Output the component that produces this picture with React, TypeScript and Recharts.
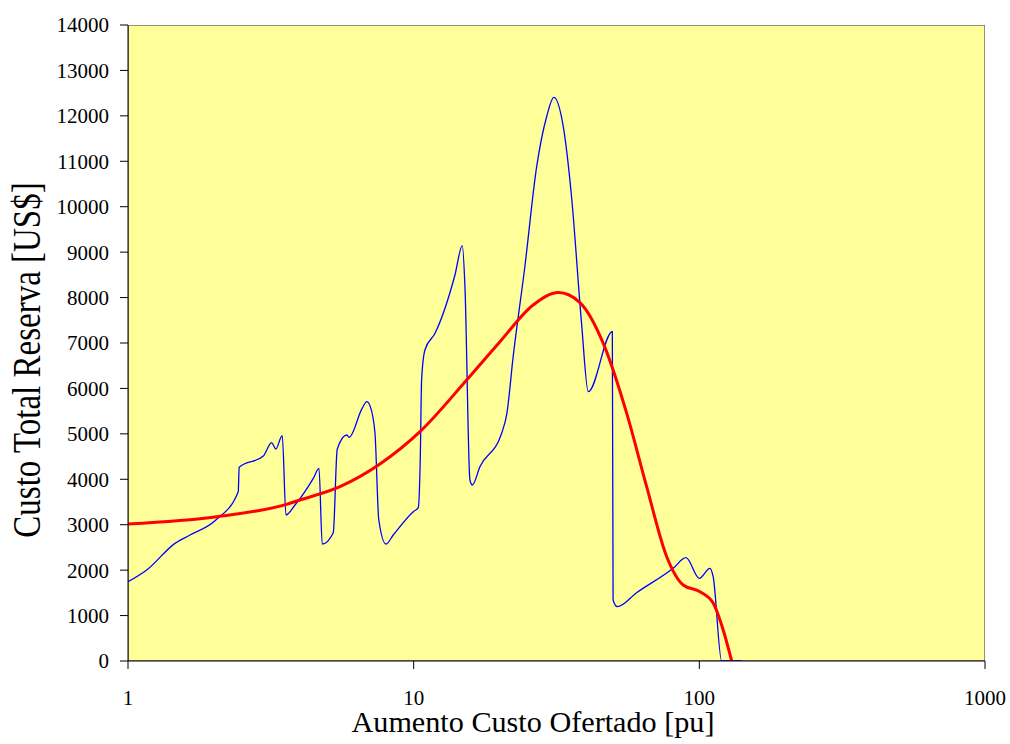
import { LineChart, Line, XAxis, YAxis, ReferenceArea, Label } from 'recharts'

// custo total observado para cada aumento do custo ofertado (eixo x em escala log)
const aumentoObs = [
  1, 1.163, 1.46, 1.648, 2.016, 2.432, 2.45, 2.976, 3.184, 3.29, 3.467, 3.573, 3.842, 4.453,
  4.662, 4.786, 5.23, 5.4, 5.83, 5.94, 6.6, 6.85, 7.05, 7.32, 7.55, 8.0, 8.48, 9.97, 10.38, 10.55,
  10.66, 10.95, 11.88, 13.95, 14.8, 15.12, 15.74, 16.04, 17.06, 20.32, 21.2, 22.3, 24.5,
  26.95, 29.2, 30.97, 33.4, 35.7, 38.7, 40.85, 49.6, 49.9, 51.6, 60.3, 81.0, 89.8, 100,
  108.9, 111.8, 119.7, 140.6,
]
const custoObs = [
  1745, 2003, 2590, 2773, 3089, 3727, 4263, 4512, 4805, 4667, 4959, 3214, 3434, 4021,
  4241, 2575, 2825, 4660, 4975, 4924, 5560, 5708, 5600, 5019, 3104, 2575, 2773, 3287, 3375, 4500,
  6185, 6846, 7213, 8497, 9142, 8240, 3984, 3874, 4277, 5012, 5452, 6699, 8679,
  10881, 11981, 12408, 11761, 10220, 7433, 5928, 7249, 1343, 1195, 1503, 2040, 2274, 1820,
  2040, 1856, 0, 0,
]

// curva de tendência
const aumentoTend = [
  1, 2.045, 3.59, 4.0, 5.52, 7.62, 10.52, 15.33, 20.05, 26.2, 32.1, 38.2, 46.1, 55.7,
  65.4, 76.9, 87.8, 100.5, 111.9, 121.2, 129.8,
]
const custoTend = [
  3016, 3177, 3449, 3544, 3837, 4336, 5048, 6185, 7029, 7836, 8110, 7890, 6993, 5452,
  3837, 2296, 1673, 1525, 1270, 682, 0,
]

const xTicks = [1, 10, 100, 1000]
const yTicks = [0, 1000, 2000, 3000, 4000, 5000, 6000, 7000, 8000, 9000, 10000, 11000, 12000, 13000, 14000]

const observado = aumentoObs.map((x, i) => ({ x, y: custoObs[i] }))
const tendencia = aumentoTend.map((x, i) => ({ x, y: custoTend[i] }))

const FONT = 'Liberation Serif, Times New Roman, DejaVu Serif, serif'

const XTitle = () => (
  <text x={533} y={732} textAnchor="middle" fontSize={29} fill="#000" style={{ fontFamily: FONT }}
    textLength={363} lengthAdjust="spacingAndGlyphs">
    Aumento Custo Ofertado [pu]
  </text>
)

const YTitle = () => (
  <text transform="translate(40,360) scale(1.2,1) rotate(-90)" x={0} y={0} textAnchor="middle"
    fontSize={33} fill="#000" style={{ fontFamily: FONT }}>
    Custo Total Reserva [US$]
  </text>
)

export default function App() {
  return (
    <div style={{ position: 'absolute', left: 0, top: 0, fontFamily: FONT }}>
      <LineChart width={1010} height={744} margin={{ top: 25, right: 25, left: 0, bottom: 0 }}
        style={{ fontFamily: FONT }}>
        <ReferenceArea x1={1} x2={1000} y1={0} y2={14000} fill="#FFFF99" fillOpacity={1}
          stroke="#707070" strokeWidth={1.5} ifOverflow="hidden" />
        <XAxis dataKey="x" type="number" scale="log" domain={[1, 1000]} ticks={xTicks}
          allowDataOverflow height={83} stroke="#000" tickSize={8} tickMargin={21}
          tick={{ fill: '#000', fontSize: 21, style: { fontFamily: FONT } }}>
          <Label content={<XTitle />} />
        </XAxis>
        <YAxis type="number" domain={[0, 14000]} ticks={yTicks} allowDataOverflow width={128}
          stroke="#000" tickSize={8} tickMargin={11} interval={0}
          tick={{ fill: '#000', fontSize: 21, style: { fontFamily: FONT } }}>
          <Label content={<YTitle />} />
        </YAxis>
        <Line data={observado} dataKey="y" type="monotone" stroke="#0000FF" strokeWidth={1.3}
          dot={false} isAnimationActive={false} />
        <Line data={tendencia} dataKey="y" type="monotone" stroke="#FF0000" strokeWidth={3}
          dot={false} isAnimationActive={false} />
      </LineChart>
    </div>
  )
}
